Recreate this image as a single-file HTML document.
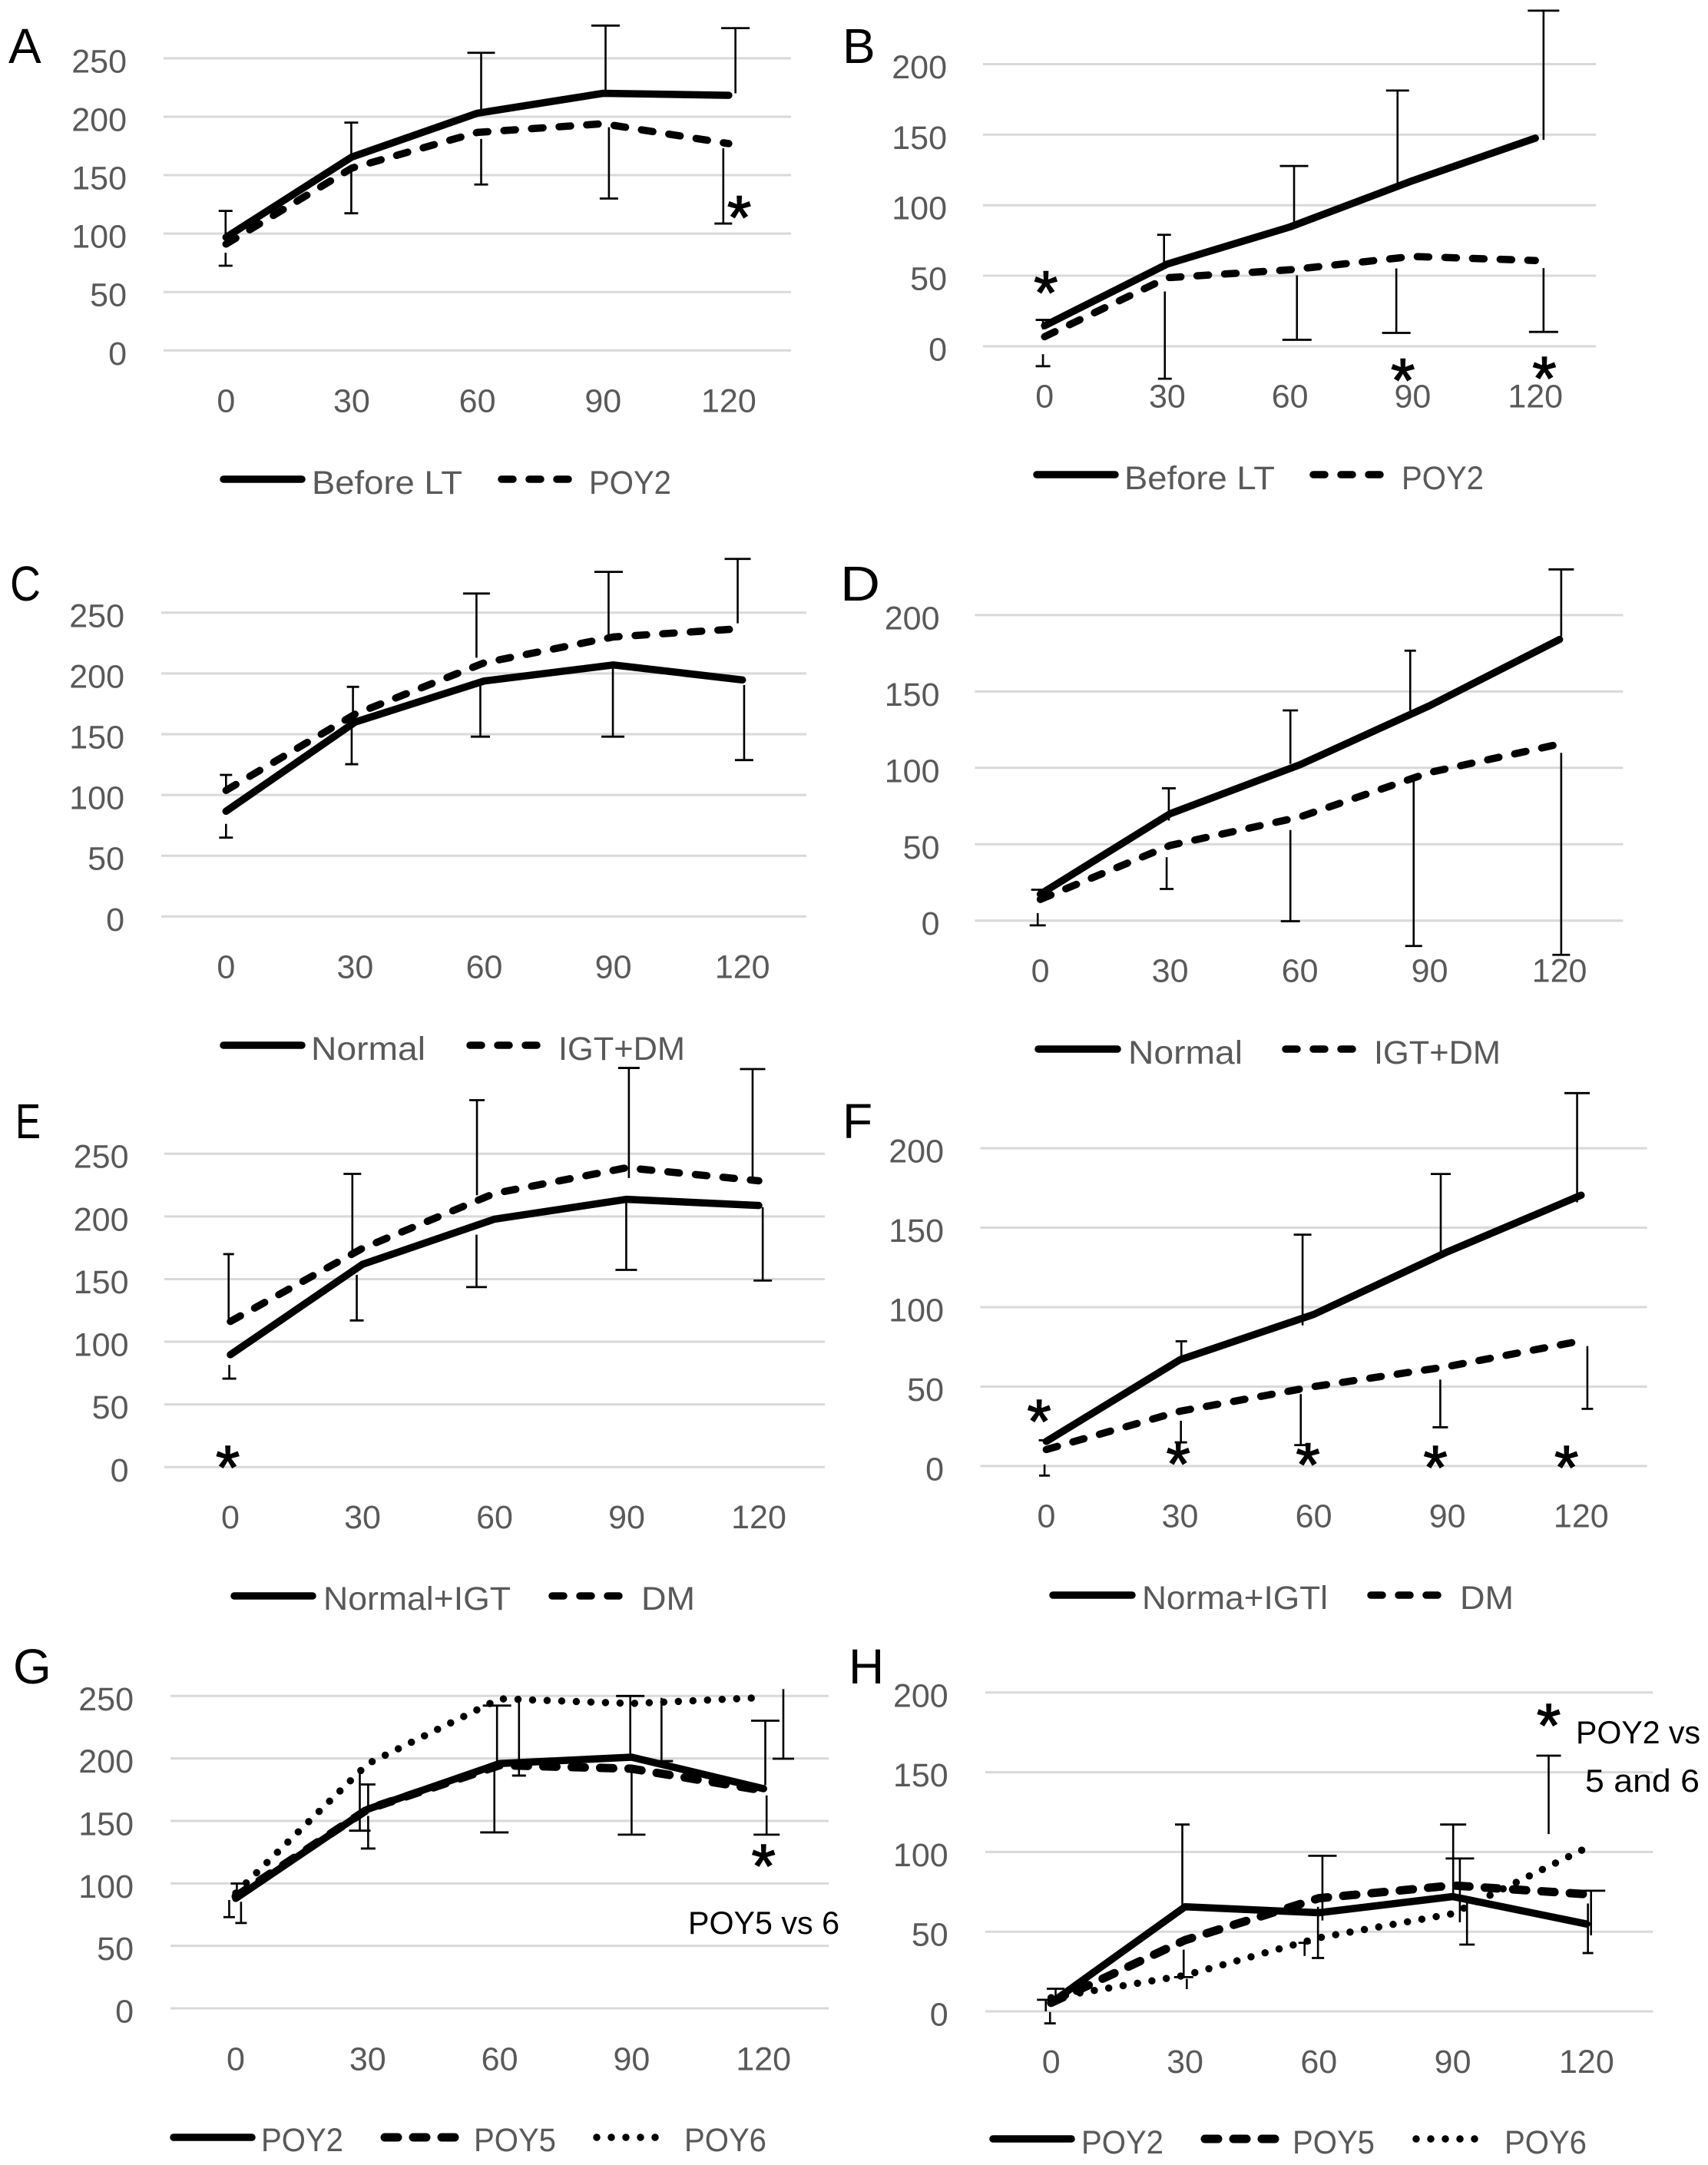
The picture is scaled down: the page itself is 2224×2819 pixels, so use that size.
<!DOCTYPE html>
<html lang="en">
<head>
<meta charset="utf-8">
<title>Eight panel line charts</title>
<style>
html,body{margin:0;padding:0;background:#fff}
svg{display:block}
text{font-family:"Liberation Sans",sans-serif}
.tick{font-size:43px;fill:#595959}
.leg{font-size:43px;fill:#595959}
.letter{font-size:64px;fill:#000}
.note{font-size:42px;fill:#000}
.star{font-size:80px;fill:#000;stroke:#000;stroke-width:1.5;text-anchor:middle}
.sw{fill:none;stroke:#000;stroke-linecap:round}
.solid{stroke-width:9.5}
.dash{stroke-width:9.5;stroke-dasharray:15 21}
.dash2{stroke-width:11;stroke-dasharray:17 20}
.dot{stroke-width:9.5;stroke-dasharray:0 19}
</style>
</head>
<body>
<svg id="figure" xmlns="http://www.w3.org/2000/svg" width="2224" height="2819" viewBox="0 0 2224 2819">
<rect width="2224" height="2819" fill="#fff"/>

<g id="panel-a">
<text class="letter" x="11" y="82">A</text>
<line class="sw solid" x1="291" y1="624" x2="393" y2="624"/>
<text class="leg" x="406" y="643" textLength="196" lengthAdjust="spacingAndGlyphs">Before LT</text>
<line class="sw dash" x1="653" y1="624" x2="744" y2="624"/>
<text class="leg" x="767" y="643" textLength="107" lengthAdjust="spacingAndGlyphs">POY2</text>
</g>

<g id="panel-b">
<text class="letter" x="1097" y="82">B</text>
<line class="sw solid" x1="1350" y1="618" x2="1452" y2="618"/>
<text class="leg" x="1464" y="637" textLength="196" lengthAdjust="spacingAndGlyphs">Before LT</text>
<line class="sw dash" x1="1710" y1="618" x2="1803" y2="618"/>
<text class="leg" x="1825" y="637" textLength="107" lengthAdjust="spacingAndGlyphs">POY2</text>
</g>

<g id="panel-c">
<text class="letter" x="13" y="782" textLength="40" lengthAdjust="spacingAndGlyphs">C</text>
<line class="sw solid" x1="291" y1="1361" x2="393" y2="1361"/>
<text class="leg" x="405" y="1380" textLength="149" lengthAdjust="spacingAndGlyphs">Normal</text>
<line class="sw dash" x1="612" y1="1361" x2="704" y2="1361"/>
<text class="leg" x="727" y="1380" textLength="165" lengthAdjust="spacingAndGlyphs">IGT+DM</text>
</g>

<g id="panel-d">
<text class="letter" x="1094" y="782" textLength="52" lengthAdjust="spacingAndGlyphs">D</text>
<line class="sw solid" x1="1352" y1="1366" x2="1455" y2="1366"/>
<text class="leg" x="1469" y="1385" textLength="149" lengthAdjust="spacingAndGlyphs">Normal</text>
<line class="sw dash" x1="1674" y1="1366" x2="1766" y2="1366"/>
<text class="leg" x="1789" y="1385" textLength="165" lengthAdjust="spacingAndGlyphs">IGT+DM</text>
</g>

<g id="panel-e">
<text class="letter" x="20" y="1482" textLength="33" lengthAdjust="spacingAndGlyphs">E</text>
<line class="sw solid" x1="305" y1="2078" x2="407" y2="2078"/>
<text class="leg" x="421" y="2096" textLength="244" lengthAdjust="spacingAndGlyphs">Normal+IGT</text>
<line class="sw dash" x1="719" y1="2078" x2="812" y2="2078"/>
<text class="leg" x="835" y="2096" textLength="70" lengthAdjust="spacingAndGlyphs">DM</text>
</g>

<g id="panel-f">
<text class="letter" x="1097" y="1482">F</text>
<line class="sw solid" x1="1371" y1="2077" x2="1474" y2="2077"/>
<text class="leg" x="1487" y="2095" textLength="242" lengthAdjust="spacingAndGlyphs">Norma+IGTl</text>
<line class="sw dash" x1="1785" y1="2077" x2="1877" y2="2077"/>
<text class="leg" x="1901" y="2095" textLength="70" lengthAdjust="spacingAndGlyphs">DM</text>
</g>

<g id="panel-g">
<text class="letter" x="17" y="2192">G</text>
<line class="sw solid" x1="226" y1="2783" x2="328" y2="2783"/>
<text class="leg" x="340" y="2801" textLength="107" lengthAdjust="spacingAndGlyphs">POY2</text>
<line class="sw dash2" x1="501" y1="2783" x2="593" y2="2783"/>
<text class="leg" x="617" y="2801" textLength="107" lengthAdjust="spacingAndGlyphs">POY5</text>
<line class="sw dot" x1="777" y1="2783" x2="870" y2="2783"/>
<text class="leg" x="891" y="2801" textLength="107" lengthAdjust="spacingAndGlyphs">POY6</text>
<text class="note" x="896" y="2518" textLength="197" lengthAdjust="spacingAndGlyphs">POY5 vs 6</text>
</g>

<g id="panel-h">
<text class="letter" x="1105" y="2192">H</text>
<line class="sw solid" x1="1293" y1="2785" x2="1395" y2="2785"/>
<text class="leg" x="1408" y="2804" textLength="107" lengthAdjust="spacingAndGlyphs">POY2</text>
<line class="sw dash2" x1="1569" y1="2785" x2="1661" y2="2785"/>
<text class="leg" x="1683" y="2804" textLength="107" lengthAdjust="spacingAndGlyphs">POY5</text>
<line class="sw dot" x1="1844" y1="2785" x2="1937" y2="2785"/>
<text class="leg" x="1959" y="2804" textLength="107" lengthAdjust="spacingAndGlyphs">POY6</text>
<text class="note" x="2052" y="2270" textLength="162" lengthAdjust="spacingAndGlyphs">POY2 vs</text>
<text class="note" x="2064" y="2333" textLength="149" lengthAdjust="spacingAndGlyphs">5 and 6</text>
</g>
</svg>

<script>
// Shared categories and tick labels
const minuteValues = [0, 30, 60, 90, 120];
const minuteLabels = ['0', '30', '60', '90', '120'];
const ticks250 = [0, 50, 100, 150, 200, 250];
const ticks200 = [0, 50, 100, 150, 200];

// Panel A
const aBeforeLT = [96.8, 165.5, 203, 220, 218.3];
const aPOY2 = [91, 156, 186.6, 194, 177];
const aBarMinute = [-0.1, -0.1, 29.9, 29.9, 60.9, 60.9, 90.6, 91.4, 121.6, 118.7];
const aBarFrom = [97, 83.6, 165, 153, 204, 181, 221, 191, 220, 173];
const aBarTo = [119.4, 72.5, 195, 117.4, 254.7, 142, 278, 130, 275.8, 108.6];
const aStarMinute = [122.5];
const aStarValue = [120.9];

// Panel B
const bBeforeLT = [14.6, 58.3, 84.6, 117.4, 147.5];
const bPOY2 = [6.8, 48.6, 54.2, 63.7, 60.8];
const bBarMinute = [-0.4, -0.4, 29.2, 29.4, 61, 61.7, 86.3, 86, 122, 122];
const bBarFrom = [12, -5.6, 59.5, 38.9, 86, 50.3, 114.2, 55.2, 146.3, 55.4];
const bBarTo = [18.7, -14.1, 79, -23, 127.8, 4.6, 181.3, 9.5, 237.9, 10.2];
const bStarMinute = [0.3, 87.6, 122.2];
const bStarValue = [43.7, -18.2, -17];

// Panel C
const cNormal = [86.6, 160, 193.8, 207, 194.7];
const cIgtDm = [103.8, 166.5, 208.8, 230, 237];
const cBarMinute = [0, 0, 29.5, 29.2, 58.2, 59.1, 88.9, 89.9, 118.9, 120.4];
const cBarFrom = [105.8, 76.2, 165, 158, 213, 191.9, 231.4, 204.6, 241.3, 190.5];
const cBarTo = [116.5, 64.9, 189, 125.3, 265.8, 148, 283.6, 148, 294.3, 128.7];

// Panel D
const dNormal = [17.3, 70, 102, 140.7, 184];
const dIgtDm = [13.9, 49.2, 67.8, 97, 115.6];
const dBarMinute = [-0.25, -0.6, 29.7, 29.2, 57.8, 57.8, 85.5, 86.3, 120.4, 120.4];
const dBarFrom = [17, 4.9, 65.5, 41.5, 102.6, 59.3, 137.4, 91.4, 186, 109.8];
const dBarTo = [20.2, -3.1, 86.6, 20.7, 137.6, -0.4, 176.7, -16.6, 229.9, -22.4];

// Panel E
const eNormalIgt = [89.7, 161.7, 197.8, 213.6, 208.7];
const eDM = [116.2, 174.5, 218.3, 238.8, 228.4];
const eBarMinute = [-0.4, -0.25, 27.7, 28.7, 56, 55.9, 90.5, 89.9, 118.6, 120.9];
const eBarFrom = [118.4, 81.5, 171.8, 153.4, 216.9, 185.4, 230.6, 210.9, 226.5, 207.3];
const eBarTo = [169.9, 70.6, 233.9, 117, 292.7, 143.6, 318.4, 157.3, 317.5, 148.8];
const eStarMinute = [-0.6];
const eStarValue = [6.3];

// Panel F
const fNormalIgt = [15.5, 66.9, 95.4, 134.8, 170.4];
const fDM = [10.4, 34.5, 50, 62.6, 78.8];
const fBarMinute = [-0.4, -0.4, 30.3, 30.2, 57.5, 57.1, 88.5, 88.4, 119.1, 121.4];
const fBarFrom = [14, 1, 66.9, 28.5, 88.5, 45.3, 134.8, 54.4, 166, 75.5];
const fBarTo = [16.2, -6, 78.5, 14.9, 145.6, 13.2, 183.8, 24.4, 234.7, 36];
const fStarMinute = [-1.6, 29.6, 58.7, 87.3, 116.7];
const fStarValue = [33.4, 6.5, 6, 4.3, 4.3];

// Panel G
const gPOY2 = [88, 159.4, 195.9, 201, 175.8];
const gPOY5 = [89.5, 159.4, 194.6, 191.8, 174.4];
const gPOY6 = [92.2, 195.7, 247.8, 244, 248.8];
const gBarMinute = [-1.5, 1.2, 0.25, 28.2, 30.1, 30.1, 59.4, 58.8, 64.4, 64.4, 89.7, 90, 96.8, 120.4, 120.7, 124.5];
const gBarFrom = [86.7, 85.3, 93.6, 191, 162.2, 154, 197.9, 191, 197.9, 193.7, 202, 189.6, 248.6, 178.6, 170.4, 255.5];
const gBarTo = [73, 68.3, 99.9, 142.2, 179.2, 127.9, 242.3, 140.8, 250, 186.3, 250, 139, 197.9, 230.2, 139, 199.8];
const gStarMinute = [120];
const gStarValue = [120.5];

// Panel H
const hPOY2 = [5.4, 65.6, 61.9, 72, 54.8];
const hPOY5 = [5.4, 44.7, 71, 79, 73.5];
const hPOY6 = [8.6, 22.6, 46.2, 61.3, 102.6];
const hBarMinute = [-1.2, -0.25, 1, 29.4, 29.7, 30.4, 60.8, 59.8, 56.8, 90.1, 91.6, 93.2, 111.5, 121, 120.3];
const hBarFrom = [0, -0.4, 9.7, 66.7, 38.7, 20.4, 57, 65.6, 34.8, 73, 55.9, 68.8, 111.2, 47.7, 67.7];
const hBarTo = [7.3, -7.5, 14.2, 117.2, 21.5, 14, 97.6, 33.5, 43, 117.2, 95.9, 41.9, 160.4, 75.7, 36.6];
const hStarMinute = [111.5];
const hStarValue = [184.5];

const SVGNS = 'http://www.w3.org/2000/svg';

function make(tag, parent, cls) {
  const el = document.createElementNS(SVGNS, tag);
  if (cls) el.setAttribute('class', cls);
  parent.appendChild(el);
  return el;
}

function drawPanel(p) {
  const host = document.getElementById(p.id);
  const xScale = m => p.x0 + m * p.xStep / 30;
  const yScale = v => p.y0 - (v - 0) * (p.y0 - p.yTop) / p.ticks[p.ticks.length - 1];
  const layer = document.createElementNS(SVGNS, 'g');
  host.insertBefore(layer, host.firstChild);
  
  

  p.ticks.forEach(function (t) {
    const g = make('line', layer);
    
    
    g.setAttribute('x1', p.gridL);
    g.setAttribute('x2', p.gridR);
    g.setAttribute('y1', yScale(t));
    g.setAttribute('y2', yScale(t));
    g.setAttribute('stroke', '#d9d9d9');
    g.setAttribute('stroke-width', '3');

    const l = make('text', layer, 'tick');
    
    
    l.setAttribute('x', p.yLabelX);
    l.setAttribute('y', yScale(t) + 18.5);
    l.setAttribute('text-anchor', 'end');
    l.textContent = String(t);
  });

  minuteValues.forEach(function (m, i) {
    const l = make('text', layer, 'tick');
    
    
    l.setAttribute('x', xScale(m));
    l.setAttribute('y', p.xLabelY - 1.5);
    l.setAttribute('text-anchor', 'middle');
    l.textContent = minuteLabels[i];
  });

  p.series.forEach(function (s) {
    const path = make('polyline', layer, 'sw ' + s.style);
    
    
    path.setAttribute('stroke-linejoin', 'round');
    path.setAttribute('points', s.values.map(function (v, i) {
      return xScale(minuteValues[i]).toFixed(1) + ',' + yScale(v).toFixed(1);
    }).join(' '));
  });

  p.barMinute.forEach(function (m, i) {
    const x = xScale(m);
    const y1 = yScale(p.barFrom[i]);
    const y2 = yScale(p.barTo[i]);
    const stem = make('line', layer);
    
    
    stem.setAttribute('x1', x);
    stem.setAttribute('x2', x);
    stem.setAttribute('y1', y1);
    stem.setAttribute('y2', y2);
    stem.setAttribute('stroke', '#000');
    stem.setAttribute('stroke-width', '2.6');
    const w = p.caps[i];
    if (w > 0) {
      const cap = make('line', layer);
      
      
      cap.setAttribute('x1', x - w / 2);
      cap.setAttribute('x2', x + w / 2);
      cap.setAttribute('y1', y2);
      cap.setAttribute('y2', y2);
      cap.setAttribute('stroke', '#000');
      cap.setAttribute('stroke-width', '2.8');
    }
  });

  (p.starMinute || []).forEach(function (m, i) {
    const star = make('text', layer, 'star');
    
    
    star.setAttribute('x', xScale(m));
    star.setAttribute('y', yScale(p.starValue[i]) + 38);
    star.textContent = '*';
  });
}

const panels = [
  {id:'panel-a', x0:294.3, xStep:163.65, y0:456.3, yTop:75.9, ticks:ticks250, gridL:213, gridR:1030, yLabelX:165, xLabelY:538,
   series:[{name:'poy2',values:aPOY2,style:'dash'},{name:'before-lt',values:aBeforeLT,style:'solid'}],
   barMinute:aBarMinute, barFrom:aBarFrom, barTo:aBarTo, caps:[18,18,18,18,36,18,37,24,37,23], starMinute:aStarMinute, starValue:aStarValue},
  {id:'panel-b', x0:1360.2, xStep:159.75, y0:450.9, yTop:83.5, ticks:ticks200, gridL:1280, gridR:2078, yLabelX:1233, xLabelY:532,
   series:[{name:'poy2',values:bPOY2,style:'dash'},{name:'before-lt',values:bBeforeLT,style:'solid'}],
   barMinute:bBarMinute, barFrom:bBarFrom, barTo:bBarTo, caps:[19,19,18,18,37,38,30,37,41,38], starMinute:bStarMinute, starValue:bStarValue},
  {id:'panel-c', x0:294.3, xStep:168.1, y0:1193.3, yTop:797.8, ticks:ticks250, gridL:210, gridR:1050, yLabelX:162, xLabelY:1275,
   series:[{name:'igt-dm',values:cIgtDm,style:'dash'},{name:'normal',values:cNormal,style:'solid'}],
   barMinute:cBarMinute, barFrom:cBarFrom, barTo:cBarTo, caps:[16,18,16,17,35,25,37,30,34,24]},
  {id:'panel-d', x0:1354.6, xStep:169, y0:1198.7, yTop:800.9, ticks:ticks200, gridL:1269.4, gridR:2113.4, yLabelX:1223.5, xLabelY:1280,
   series:[{name:'igt-dm',values:dIgtDm,style:'dash'},{name:'normal',values:dNormal,style:'solid'}],
   barMinute:dBarMinute, barFrom:dBarFrom, barTo:dBarTo, caps:[21,21,18,18,20,25,15,22,33,23]},
  {id:'panel-e', x0:300, xStep:172, y0:1910.3, yTop:1502.2, ticks:ticks250, gridL:214, gridR:1074, yLabelX:167.5, xLabelY:1991.5,
   series:[{name:'dm',values:eDM,style:'dash'},{name:'normal-igt',values:eNormalIgt,style:'solid'}],
   barMinute:eBarMinute, barFrom:eBarFrom, barTo:eBarTo, caps:[14,18,23,18,20,27,28,28,33,24], starMinute:eStarMinute, starValue:eStarValue},
  {id:'panel-f', x0:1362.4, xStep:174.1, y0:1908.9, yTop:1495.1, ticks:ticks200, gridL:1276.5, gridR:2144.6, yLabelX:1229, xLabelY:1990,
   series:[{name:'dm',values:fDM,style:'dash'},{name:'normal-igt',values:fNormalIgt,style:'solid'}],
   barMinute:fBarMinute, barFrom:fBarFrom, barTo:fBarTo, caps:[15,14,15,16,23,17,26,20,33,15], starMinute:fStarMinute, starValue:fStarValue},
  {id:'panel-g', x0:307, xStep:171.8, y0:2615, yTop:2208.3, ticks:ticks250, gridL:222, gridR:1079, yLabelX:174, xLabelY:2697,
   series:[{name:'poy6',values:gPOY6,style:'dot'},{name:'poy5',values:gPOY5,style:'dash2'},{name:'poy2',values:gPOY2,style:'solid'}],
   barMinute:gBarMinute, barFrom:gBarFrom, barTo:gBarTo, caps:[15,15,16,28,19,19,37,37,0,18,37,36,30,37,34,28], starMinute:gStarMinute, starValue:gStarValue},
  {id:'panel-h', x0:1368.7, xStep:174.3, y0:2619, yTop:2203.8, ticks:ticks200, gridL:1283, gridR:2152.4, yLabelX:1234.7, xLabelY:2700.7,
   series:[{name:'poy6',values:hPOY6,style:'dot'},{name:'poy5',values:hPOY5,style:'dash2'},{name:'poy2',values:hPOY2,style:'solid'}],
   barMinute:hBarMinute, barFrom:hBarFrom, barTo:hBarTo, caps:[23,15,23,19,25,0,37,16,16,34,37,20,32,37,14], starMinute:hStarMinute, starValue:hStarValue}
];

panels.forEach(drawPanel);
</script>
</body>
</html>
